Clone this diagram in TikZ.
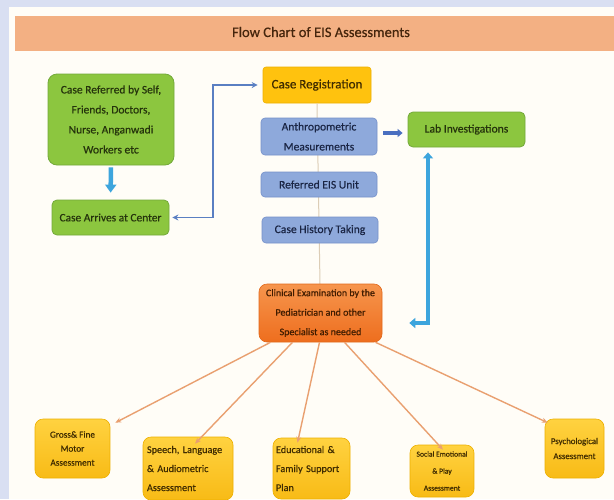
\documentclass[tikz,border=0pt]{standalone}
\usepackage{fontspec}
\setmainfont{Carlito}
\newfontfamily\boxfont{Carlito}[FakeBold=0.5]
\usetikzlibrary{arrows.meta}

\definecolor{pagebg}{HTML}{D9DFF2}
\definecolor{panel}{HTML}{FFFDF7}
\definecolor{band}{HTML}{F3B083}
\definecolor{titletxt}{HTML}{45250C}
\definecolor{grn}{HTML}{8CC63F}
\definecolor{grnline}{HTML}{73A93A}
\definecolor{grntxt}{HTML}{25330C}
\definecolor{gold}{HTML}{FFC20E}
\definecolor{goldtop}{HTML}{FFD240}
\definecolor{goldbot}{HTML}{F8BB16}
\definecolor{goldline}{HTML}{EDB000}
\definecolor{goldtxt}{HTML}{3F2B00}
\definecolor{blu}{HTML}{8EA9DB}
\definecolor{bluline}{HTML}{7591C9}
\definecolor{blutxt}{HTML}{1A2544}
\definecolor{orgtop}{HTML}{F6954D}
\definecolor{orgbot}{HTML}{EE6E1E}
\definecolor{orgline}{HTML}{E2691C}
\definecolor{orgtxt}{HTML}{401C00}
\definecolor{orgarrow}{HTML}{E9A070}
\definecolor{skyarrow}{HTML}{3DA5DD}
\definecolor{steelarrow}{HTML}{5A7FC2}
\definecolor{navyarrow}{HTML}{4A6FC0}
\definecolor{spine}{HTML}{DCCDB6}

\tikzset{
  box/.style={rectangle, inner sep=0pt, align=center},
  greenbox/.style={box, fill=grn, draw=grnline, line width=0.8pt, rounded corners=9pt, text=grntxt},
  goldbox/.style={box, top color=goldtop, bottom color=goldbot, draw=goldline, line width=0.6pt, rounded corners=8pt, text=goldtxt},
  regbox/.style={box, fill=gold, draw=goldline, line width=0.6pt, rounded corners=3pt, text=goldtxt},
  bluebox/.style={box, fill=blu, draw=bluline, line width=0.6pt, rounded corners=4pt, text=blutxt},
  clinbox/.style={box, top color=orgtop, bottom color=orgbot, draw=orgline, line width=0.6pt, rounded corners=8pt, text=orgtxt},
  orangearrow/.style={draw=orgarrow, line width=1.4pt, -{Stealth[length=6pt,width=5pt]}},
  skyline/.style={draw=skyarrow, line width=4pt, {Triangle[length=6pt,width=10pt]}-{Triangle[length=6pt,width=10pt]}},
  elbowline/.style={draw=steelarrow, line width=1.8pt, {Stealth[length=6pt,width=6pt]}-{Stealth[length=6pt,width=6pt]}},
}

\newcommand{\fs}[2]{\boxfont\fontsize{#1}{#2}\selectfont}

\begin{document}
\begin{tikzpicture}[x=1pt,y=-1pt]
\useasboundingbox (0,0) rectangle (614,499);
\fill[pagebg] (0,0) rectangle (614,499);
\fill[panel] (9,7) rectangle (614,499);

% heading band
\fill[band] (15,16) rectangle (614,51);
\node[text=titletxt, font=\fs{14.5}{16}] (title) at (321,32) {Flow Chart of EIS Assessments};

% boxes
\node[greenbox, minimum width=126pt, minimum height=91pt, font=\fs{11.5}{20}] (ref) at (111,119.5)
  {Case Referred by Self,\\Friends, Doctors,\\Nurse, Anganwadi\\Workers etc};
\node[greenbox, rounded corners=5pt, minimum width=117pt, minimum height=35pt, font=\fs{11.4}{12}] (arrive) at (110.5,217.5)
  {Case Arrives at Center};

\node[regbox, minimum width=108pt, minimum height=36pt, font=\fs{13}{14}] (reg) at (317,85)
  {Case Registration};

% spine behind the middle column
\draw[spine, line width=1pt] (reg.south) -- (320,284) coordinate (spineend);

\node[bluebox, minimum width=116pt, minimum height=37pt, font=\fs{11.5}{20}] (anth) at (319,136.5)
  {Anthropometric\\Measurements};
\node[bluebox, minimum width=116pt, minimum height=25pt, font=\fs{11.6}{12}] (eis) at (319,184.5)
  {Referred EIS Unit};
\node[bluebox, minimum width=116pt, minimum height=26pt, font=\fs{11.6}{12}] (hist) at (320,230)
  {Case History Taking};

\node[greenbox, rounded corners=5pt, minimum width=117pt, minimum height=35pt, font=\fs{11.6}{12}] (lab) at (466.5,129.5)
  {Lab Investigations};

\node[clinbox, minimum width=123pt, minimum height=58pt, font=\fs{10}{19.5}] (clin) at (320.5,313)
  {Clinical Examination by the\\Pediatrician and other\\Specialist as needed};

\node[goldbox, minimum width=75pt, minimum height=59pt, font=\fs{9.2}{14}] (gross) at (72.5,448.5)
  {Gross\& Fine\\Motor\\Assessment};
\node[goldbox, minimum width=90pt, minimum height=63pt, align=left, text width=82pt, font=\fs{10.2}{19}] (speech) at (188,468.5)
  {Speech, Language\\\& Audiometric\\Assessment};
\node[goldbox, minimum width=77pt, minimum height=61pt, align=left, text width=71pt, font=\fs{10.2}{19}] (edu) at (311.5,468.5)
  {Educational \&\\Family Support\\Plan};
\node[goldbox, minimum width=64pt, minimum height=52pt, font=\fs{7.6}{17}] (social) at (442,471)
  {Social Emotional\\\& Play\\Assessment};
\node[goldbox, minimum width=59pt, minimum height=59pt, font=\fs{8.8}{15}] (psych) at (574.5,448.5)
  {Psychological\\Assessment};

% connectors
\draw[draw=skyarrow, line width=4.5pt, -{Triangle[length=8pt,width=11pt]}, shorten <=2pt, shorten >=7pt] (ref.south) -- (arrive.north);

\coordinate (bend) at (213,0);
\draw[elbowline, shorten <=3pt, shorten >=5pt] (arrive.east) -- (arrive.east -| bend) -- (bend |- reg.west) -- (reg.west);

\draw[draw=navyarrow, line width=4pt, -{Triangle[length=5pt,width=8pt]}, shorten <=6pt, shorten >=5pt] (anth.east |- 0,133) -- (lab.west |- 0,133);

\coordinate (skyx) at (428,0);
\draw[skyline, shorten <=5pt] (lab.south -| skyx) -- (skyx |- 0,323) -- ([yshift=-10pt, xshift=27pt]clin.east);

\draw[orangearrow] ([xshift=-50pt]clin.south) -- ([xshift=5pt, yshift=-4pt]gross.north east);
\draw[orangearrow] ([xshift=-28pt]clin.south) -- ([xshift=7pt, yshift=-7pt]speech.north);
\draw[orangearrow] ([xshift=-1pt]clin.south) -- ([xshift=-14pt, yshift=-5pt]edu.north);
\draw[orangearrow] ([xshift=24pt]clin.south) -- ([xshift=1pt, yshift=-5pt]social.north);
\draw[orangearrow] ([xshift=55pt]clin.south) -- ([xshift=3pt, yshift=-4pt]psych.north west);
\end{tikzpicture}
\end{document}
